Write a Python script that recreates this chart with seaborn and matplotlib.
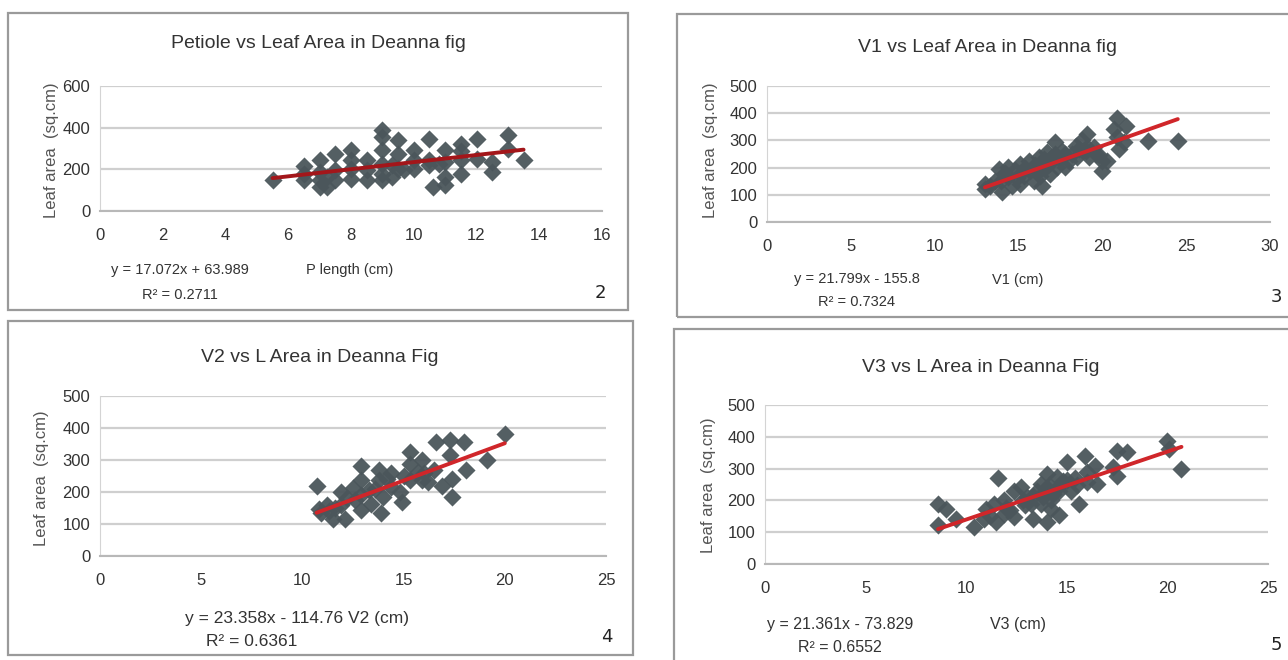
import matplotlib
matplotlib.use("Agg")
import matplotlib.pyplot as plt
import seaborn as sns
from matplotlib.patches import Rectangle

# petiole length vs leaf area
p_len = [5.5, 6.5, 6.5, 6.5, 7, 7, 7, 7, 7.25, 7.25, 7.5, 7.5, 7.5, 8, 8, 8, 8,
         8.5, 8.5, 8.5, 9, 9, 9, 9, 9, 9, 9.3, 9.3, 9.5, 9.5, 9.5, 9.7, 10, 10, 10,
         10.5, 10.5, 10.5, 10.6, 10.8, 11, 11, 11, 11, 11.5, 11.5, 11.5, 11.5,
         12, 12, 12.5, 12.5, 13, 13, 13.5]
p_area = [150, 215, 180, 147, 244, 188, 147, 115, 164, 115, 276, 196, 150, 292, 244, 200, 156,
          244, 196, 148, 388, 356, 292, 228, 180, 148, 220, 164, 343, 276, 204, 196, 292, 244, 204,
          348, 244, 220, 115, 228, 292, 236, 164, 125, 324, 290, 244, 180,
          348, 252, 236, 188, 365, 300, 244]

# V1 vs leaf area
v1_len = [13, 13, 13.3, 13.85, 13.95, 14.0, 14.4, 14.4, 14.6, 15.1, 15.1, 15.1, 15.6, 15.7,
          15.9, 16.2, 16.2, 16.4, 16.7, 16.8, 16.9, 17.2, 17.2, 17.3, 17.8, 17.8, 18.4, 18.5,
          19.1, 19.1, 19.2, 19.5, 19.6, 20.0, 20.0, 20.3, 20.7, 20.9, 20.9, 21.0, 21.4, 21.3,
          22.7, 24.5, 14.2, 15.4, 16.0, 16.5, 17.5, 18.0, 18.8, 14.8, 15.9, 17.0,
          15.3, 16.6, 17.6, 18.2, 19.0, 13.6, 14.9, 16.3, 18.6, 19.8]
v1_area = [140, 122, 134, 195, 152, 110, 201, 165, 134, 213, 177, 140, 226, 189,
           152, 238, 189, 134, 256, 213, 177, 293, 250, 201, 250, 201, 280, 238,
           323, 274, 238, 274, 250, 226, 189, 226, 341, 384, 311, 268, 354, 293,
           299, 299, 180, 200, 210, 230, 230, 225, 300, 190, 200, 240,
           170, 200, 260, 250, 260, 150, 160, 170, 270, 245]

# V2 vs leaf area
v2_len = [10.7, 10.8, 10.9, 11.2, 11.5, 11.9, 11.9, 12.1, 12.5, 12.6, 12.9, 12.9, 12.9, 12.9,
          13.3, 13.4, 13.8, 13.8, 13.9, 14.0, 14.4, 14.4, 14.8, 14.9, 15.3, 15.3, 15.3, 15.7,
          15.9, 15.9, 16.6, 16.5, 16.9, 17.3, 17.3, 17.4, 17.4, 18.0, 18.1, 19.1, 20.0,
          11.3, 12.2, 13.6, 14.2, 15.0, 16.0, 16.2, 11.6]
v2_area = [218, 148, 133, 159, 117, 200, 159, 117, 211, 174, 280, 237, 190, 143,
           206, 164, 270, 237, 133, 185, 258, 216, 200, 169, 325, 289, 237, 263,
           299, 237, 356, 268, 218, 361, 315, 242, 185, 356, 268, 299, 382,
           140, 180, 210, 240, 250, 260, 230, 150]

# V3 vs leaf area
v3_len = [8.6, 8.6, 9.0, 9.5, 10.4, 10.9, 11.0, 11.4, 11.5, 11.6, 11.9, 11.9, 12.4, 12.4,
          12.7, 12.9, 13.2, 13.3, 13.7, 13.8, 14.0, 14.0, 14.2, 14.5, 14.6, 15.0, 15.2, 15.6,
          15.9, 16.0, 16.4, 16.5, 17.3, 17.5, 17.5, 18.0, 20.0, 20.1, 20.7,
          13.5, 14.1, 14.3, 14.8, 13.0, 12.2, 14.5, 15.4, 13.9, 11.2,
          14.0, 14.6, 13.3, 15.0, 14.2, 13.7, 12.8, 15.5, 12.0, 16.0]
v3_area = [190, 122, 174, 143, 117, 143, 174, 190, 132, 271, 200, 158, 231, 148,
           242, 184, 190, 143, 252, 210, 283, 132, 174, 273, 153, 320, 231, 190,
           340, 257, 309, 252, 304, 356, 278, 351, 387, 361, 299,
           230, 250, 220, 260, 210, 170, 240, 270, 230, 150,
           240, 230, 215, 265, 200, 190, 200, 250, 175, 290]

# trendline equations as printed on the chart
slopes = [17.072, 21.799, 23.358, 21.361]
intercepts = [63.989, -155.8, -114.76, -73.829]

titles = ["Petiole vs Leaf Area in Deanna fig", "V1 vs Leaf Area in Deanna fig",
          "V2 vs L Area in Deanna Fig", "V3 vs L Area in Deanna Fig"]
xlabels = ["P length (cm)", "V1 (cm)", "V2 (cm)", "V3 (cm)"]
equations = ["y = 17.072x + 63.989", "y = 21.799x - 155.8",
             "y = 23.358x - 114.76", "y = 21.361x - 73.829"]
r2_labels = ["R² = 0.2711", "R² = 0.7324", "R² = 0.6361", "R² = 0.6552"]
numbers = ["2", "3", "4", "5"]

sns.set_style("white")
plt.rcParams["font.family"] = ["Liberation Sans Narrow", "Liberation Sans", "DejaVu Sans"]

W, H = 1288, 660
fig = plt.figure(figsize=(W / 100, H / 100), dpi=100)


def fx(px):
    return px / W


def fy(py):
    return 1 - py / H


# layout in pixels: plot box, frame, text anchors
panels = [
    dict(x=p_len, y=p_area, box=(100, 86, 602, 211), xmax=16, ymax=600, xstep=2, ystep=200,
         frame=(8, 13, 628, 310), title=(318, 44), ylab=(52, 150), eq=(180, 270), r2=(180, 295),
         xl=(350, 270), num=(600, 293), lc="#a3161a", efs=10.5),
    dict(x=v1_len, y=v1_area, box=(767, 86, 1270, 222), xmax=30, ymax=500, xstep=5, ystep=100,
         frame=(677, 14, 1300, 317), title=(987, 47), ylab=(710, 150), eq=(857, 279), r2=(857, 302),
         xl=(1018, 280), num=(1276, 297), lc="#d0262a", efs=10.5),
    dict(x=v2_len, y=v2_area, box=(100, 396, 606, 556), xmax=25, ymax=500, xstep=5, ystep=100,
         frame=(8, 321, 633, 655), title=(320, 357), ylab=(42, 478), eq=(264, 618), r2=(252, 641),
         xl=(348, 619), num=(607, 637), lc="#d0262a", efs=12.5),
    dict(x=v3_len, y=v3_area, box=(765, 405, 1268, 564), xmax=25, ymax=500, xstep=5, ystep=100,
         frame=(674, 329, 1300, 670), title=(981, 367), ylab=(708, 485), eq=(840, 625), r2=(840, 648),
         xl=(1018, 625), num=(1276, 645), lc="#d0262a", efs=11.5),
]

for i, p in enumerate(panels):
    x0, y0, x1, y1 = p["frame"]
    fig.patches.append(Rectangle((fx(x0), fy(y1)), fx(x1 - x0), (y1 - y0) / H,
                                 transform=fig.transFigure, fill=False,
                                 edgecolor="#9a9a9a", linewidth=1.6))
    bx0, by0, bx1, by1 = p["box"]
    ax = fig.add_axes([fx(bx0), fy(by1), fx(bx1 - bx0), (by1 - by0) / H])
    sns.scatterplot(x=p["x"], y=p["y"], ax=ax, marker="D", s=85, color="#4b565b",
                    linewidth=0, alpha=0.95, zorder=3)
    tx = [min(p["x"]), max(p["x"])]
    ty = [slopes[i] * v + intercepts[i] for v in tx]
    sns.lineplot(x=tx, y=ty, ax=ax, color=p["lc"], linewidth=2.8, zorder=4)
    ax.set_xlim(0, p["xmax"])
    ax.set_ylim(0, p["ymax"])
    ax.set_xticks(range(0, p["xmax"] + 1, p["xstep"]))
    ax.set_yticks(range(0, p["ymax"] + 1, p["ystep"]))
    ax.grid(axis="y", color="#cfcfcf", linewidth=1.6)
    ax.set_axisbelow(True)
    for s in ["top", "right"]:
        ax.spines[s].set_visible(False)
    ax.spines["left"].set_color("#d4d4d4")
    ax.spines["bottom"].set_color("#b8b8b8")
    ax.spines["bottom"].set_linewidth(1.5)
    ax.tick_params(axis="x", direction="out", length=4, color="#c0c0c0", labelsize=12,
                   labelcolor="#333333", pad=8)
    ax.tick_params(axis="y", direction="out", length=4, color="#c0c0c0", labelsize=12,
                   labelcolor="#333333", pad=3)
    ax.set_xlabel("")
    ax.set_ylabel("")

    fig.text(fx(p["title"][0]), fy(p["title"][1]), titles[i], ha="center", va="center",
             fontsize=14, color="#333333")
    fig.text(fx(p["ylab"][0]), fy(p["ylab"][1]), "Leaf area  (sq.cm)", ha="center", va="center",
             rotation=90, fontsize=12, color="#555555")
    fig.text(fx(p["eq"][0]), fy(p["eq"][1]), equations[i], ha="center", va="center",
             fontsize=p["efs"], color="#333333")
    fig.text(fx(p["r2"][0]), fy(p["r2"][1]), r2_labels[i], ha="center", va="center",
             fontsize=p["efs"], color="#333333")
    fig.text(fx(p["xl"][0]), fy(p["xl"][1]), xlabels[i], ha="left" if i == 2 else "center",
             va="center", fontsize=p["efs"], color="#333333")
    fig.text(fx(p["num"][0]), fy(p["num"][1]), numbers[i], ha="center", va="center",
             fontsize=13, color="#222222", family="DejaVu Sans")

fig.savefig("out.png", dpi=100)
